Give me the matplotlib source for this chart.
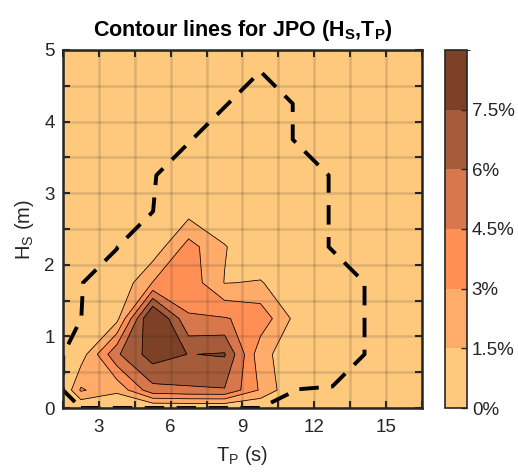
import numpy as np
import matplotlib
matplotlib.use("Agg")
import matplotlib.pyplot as plt
from matplotlib.colors import ListedColormap, BoundaryNorm
from matplotlib.cm import ScalarMappable

plt.rcParams['font.family'] = ['Liberation Sans', 'DejaVu Sans']
plt.rcParams['mathtext.fontset'] = 'custom'
plt.rcParams['mathtext.rm'] = 'Liberation Sans'
plt.rcParams['mathtext.bf'] = 'Liberation Sans:bold'

# bin centres (Tp in s, Hs in m), padded with empty edges
tp = [1.5, 2.25, 3.75, 5.25, 6.75, 8.25, 9.75, 11.25, 12.75, 14.25, 15.75, 16.5]
hs = [0, 0.25, 0.75, 1.25, 1.75, 2.25, 2.75, 3.25, 3.75, 4.25, 4.75, 5.0]

# joint probability (%) per row of Hs
p_000 = [0, 0, 0, 0, 0, 0, 0, 0, 0, 0, 0, 0]
p_025 = [0, 3.2, 1.83, 5.5, 5.8, 5.9, 2.8, 0, 0, 0, 0, 0]
p_075 = [0, 0.69, 5.77, 8.24, 7.46, 7.63, 2.0, 0.5, 0.1, 0, 0, 0]
p_125 = [0, 0, 1.0, 9.8, 4.6, 4.6, 4.0, 1.0, 0.1, 0, 0, 0]
p_175 = [0, 0, 0.17, 3.05, 3.95, 1.45, 1.6, 0.5, 0.1, 0, 0, 0]
p_225 = [0, 0, 0, 0.46, 3.6, 1.6, 0.3, 0.1, 0, 0, 0, 0]
p_275 = [0, 0, 0, 0, 0.9, 0.3, 0.2, 0.1, 0, 0, 0, 0]
p_325 = [0, 0, 0, 0, 0.1, 0.2, 0.1, 0.1, 0, 0, 0, 0]
p_375 = [0, 0, 0, 0, 0, 0.1, 0.1, 0, 0, 0, 0, 0]
p_425 = [0, 0, 0, 0, 0, 0, 0.1, 0, 0, 0, 0, 0]
p_475 = [0, 0, 0, 0, 0, 0, 0, 0, 0, 0, 0, 0]
p_500 = [0, 0, 0, 0, 0, 0, 0, 0, 0, 0, 0, 0]

levels = [0, 1.5, 3, 4.5, 6, 7.5, 9]
level_labels = ['0%', '1.5%', '3%', '4.5%', '6%', '7.5%']
colors = ['#FEC97C', '#FFAB69', '#FF8F55', '#D7774B', '#A65C3B', '#7D4127']
outer_level = 0.01

Z = np.array([p_000, p_025, p_075, p_125, p_175, p_225, p_275,
              p_325, p_375, p_425, p_475, p_500])

fig = plt.figure(figsize=(5.18, 4.73), dpi=100)
ax = fig.add_axes([0.1216, 0.1374, 0.693, 0.757])
cax = fig.add_axes([0.859, 0.1374, 0.0425, 0.757])

ax.set_facecolor(colors[0])
ax.contourf(tp, hs, Z, levels=levels[:-1] + [100], colors=colors)
ax.contour(tp, hs, Z, levels=levels[1:-1], colors='k', linewidths=0.55)
ax.contour(tp, hs, Z, levels=[outer_level], colors='k', linewidths=2.8,
           linestyles=[(0, (5, 3.2))])

ax.set_xlim(1.5, 16.5)
ax.set_ylim(0, 5)
xt = np.arange(1.5, 16.6, 1.5)
ax.set_xticks(xt)
ax.set_xticklabels(['%g' % v if v % 3 == 0 else '' for v in xt])
yt = np.arange(0, 5.01, 0.5)
ax.set_yticks(yt)
ax.set_yticklabels(['%g' % v if v % 1 == 0 else '' for v in yt])
ax.tick_params(direction='in', top=True, right=True, length=5, width=1.5,
               labelsize=13.5, colors='#262626')
ax.tick_params(axis='x', pad=8)
ax.tick_params(axis='y', pad=6)
ax.grid(True, color='#262626', alpha=0.15, linewidth=1.8)
ax.set_axisbelow(False)
for s in ax.spines.values():
    s.set_linewidth(1.8)
    s.set_color('#262626')

ax.set_xlabel(r'T$_\mathrm{P}$ (s)', fontsize=14.5, color='#262626', labelpad=6)
ax.set_ylabel(r'H$_\mathrm{S}$ (m)', fontsize=14.5, color='#262626', labelpad=6)
ax.set_title(r'Contour lines for JPO (H$_\mathbf{S}$,T$_\mathbf{P}$)',
             fontsize=15.5, fontweight='bold', pad=10)

sm = ScalarMappable(norm=BoundaryNorm(levels, len(colors)), cmap=ListedColormap(colors))
cb = fig.colorbar(sm, cax=cax, ticks=levels[:-1])
cb.ax.set_yticklabels(level_labels)
cb.ax.tick_params(direction='in', length=4, width=1, labelsize=13.5, colors='#262626')
cb.outline.set_linewidth(1.2)
cb.outline.set_edgecolor('#262626')

fig.savefig('out.png', dpi=100)
